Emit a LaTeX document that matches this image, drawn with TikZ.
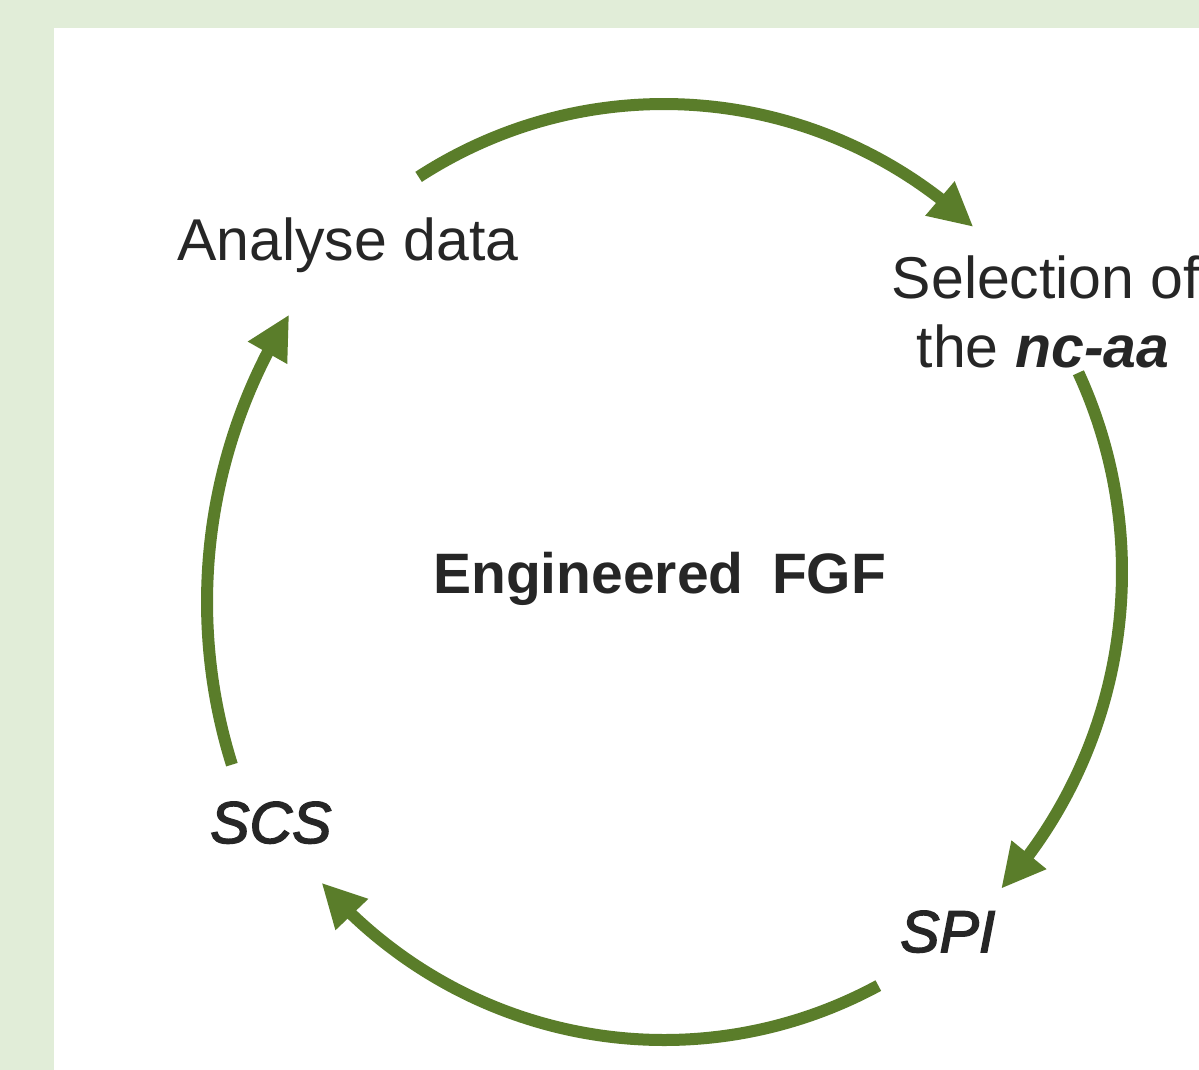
\documentclass[tikz,border=0pt]{standalone}
\usepackage{fontspec}
\setmainfont{Liberation Sans}
\newfontface\semiital{Liberation Sans Italic}[FakeBold=2.5]
\usetikzlibrary{arrows.meta,bending}
\definecolor{bgreen}{RGB}{225,237,216}
\definecolor{arcgreen}{RGB}{90,125,42}
\definecolor{txt}{RGB}{38,38,38}
\tikzset{
  flow/.style={draw=arcgreen, line width=12pt, -{Triangle[length=44pt,width=42pt,flex]}},
  lbl/.style={inner sep=0pt, text=txt, font=\fontsize{59}{69}\selectfont},
  ctrlbl/.style={inner sep=0pt, text=txt, font=\fontsize{57}{69}\selectfont\bfseries}
}
\begin{document}
\begin{tikzpicture}[x=1pt,y=1pt]
\path[fill=bgreen] (0,0) rectangle (1199,-1070);
\path[fill=white] (54,-28) rectangle (1199,-1070);
\useasboundingbox (0,0) rectangle (1199,-1070);

\coordinate (ctr) at (664,-572);
\coordinate (lctr) at (751,-602);
\coordinate (a1) at ([shift={(122.4:458 and 468)}]ctr);
\coordinate (a2) at ([shift={(25.2:458 and 468)}]ctr);
\coordinate (a3) at ([shift={(-62.1:458 and 468)}]ctr);
\coordinate (a4) at ([shift={(197.4:544)}]lctr);

\draw[flow] (a1) arc[start angle=122.4, end angle=47.5, x radius=458, y radius=468];
\draw[flow] (a2) arc[start angle=25.2, end angle=-42.6, x radius=458, y radius=468];
\draw[flow] (a3) arc[start angle=-62.1, end angle=-138.4, x radius=458, y radius=468];
\draw[flow] (a4) arc[start angle=197.4, end angle=148.1, radius=544];

\node[lbl, anchor=base west] (analyse) at (177,-260) {Analyse data};
\node[lbl, anchor=base] (sel1) at (1046,-298) {Selection of};
\node[lbl, anchor=base] (sel2) at (1043,-367) {the \textbf{\textit{nc-aa}}};
\node[ctrlbl, anchor=base west] (eng) at (433,-593) {Engineered\hspace{0.5em}FGF};
\node[lbl, anchor=base west] (scs) at (210,-843) {\semiital SCS};
\node[lbl, anchor=base west] (spi) at (900,-952) {\semiital SPI};
\end{tikzpicture}
\end{document}
